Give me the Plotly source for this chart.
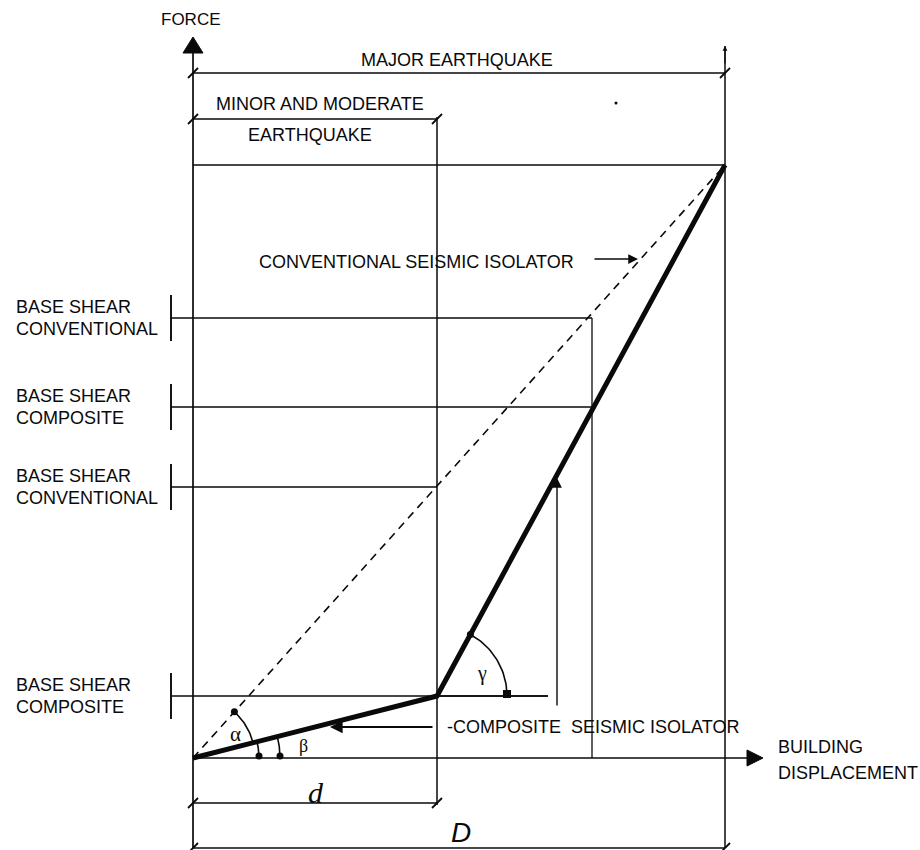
import numpy as np
import plotly.graph_objects as go

# ---------------- diagram values (x: building displacement, y: force) ----------------
d_minor = 244            # displacement for minor / moderate earthquake (d)
D_major = 532            # displacement for major earthquake (D)
F_peak = 593             # force reached at D by both isolators
F_knee = 62              # composite isolator knee force

composite_x = [0, 244, 532]        # composite seismic isolator (thick, bilinear)
composite_y = [0, 62, 593]
conventional_x = [0, 532]          # conventional seismic isolator (dashed, linear)
conventional_y = [0, 593]

shear_levels = [440, 351, 271, 62]           # base shear levels marked on the left
shear_line_end = [399, 401, 244, 355]        # where each level line stops
shear_label_top = ["BASE SHEAR", "BASE SHEAR", "BASE SHEAR", "BASE SHEAR"]
shear_label_bottom = ["CONVENTIONAL", "COMPOSITE", "CONVENTIONAL", "COMPOSITE"]

intermediate_x = 399      # displacement where the upper base shears are compared
major_dim_y = 685         # dimension line "MAJOR EARTHQUAKE"
minor_dim_y = 639         # dimension line "MINOR AND MODERATE EARTHQUAKE"
d_dim_y = -45             # dimension line "d"
D_dim_y = -90             # dimension line "D"
x_axis_end = 570
y_axis_end = 721

INK = "#0a0a0a"
FONT = "Liberation Sans, Arial, Helvetica, sans-serif"
SERIF = "Liberation Serif, Times New Roman, serif"

fig = go.Figure()


def seg(xs, ys, width=1.5, dash=None, color=INK):
    fig.add_trace(go.Scatter(x=xs, y=ys, mode="lines",
                             line=dict(color=color, width=width, dash=dash),
                             hoverinfo="skip", showlegend=False))


# ---------- axes ----------
seg([0, 0], [D_dim_y, y_axis_end - 15], 1.7)          # force axis
seg([0, x_axis_end - 15], [0, 0], 1.7)                # displacement axis
fig.add_trace(go.Scatter(x=[-10, 10, 0, -10], y=[y_axis_end - 16, y_axis_end - 16, y_axis_end, y_axis_end - 16],
                         mode="lines", fill="toself", fillcolor=INK, line=dict(color=INK, width=1),
                         hoverinfo="skip", showlegend=False))
fig.add_trace(go.Scatter(x=[x_axis_end - 16, x_axis_end - 16, x_axis_end, x_axis_end - 16], y=[-8, 8, 0, -8],
                         mode="lines", fill="toself", fillcolor=INK, line=dict(color=INK, width=1),
                         hoverinfo="skip", showlegend=False))

# ---------- vertical reference lines ----------
seg([d_minor, d_minor], [d_dim_y - 2, minor_dim_y + 2], 1.5)
seg([D_major, D_major], [D_dim_y, major_dim_y + 27], 1.5)
seg([intermediate_x, intermediate_x], [0, shear_levels[0]], 1.3)

# ---------- dimension lines ----------
seg([0, D_major], [major_dim_y, major_dim_y], 1.5)
seg([0, d_minor], [minor_dim_y, minor_dim_y], 1.5)
seg([0, D_major], [F_peak, F_peak], 1.5)
seg([0, d_minor], [d_dim_y, d_dim_y], 1.5)
seg([0, D_major], [D_dim_y, D_dim_y], 1.5)

tick_pts = [(0, major_dim_y), (D_major, major_dim_y), (0, minor_dim_y), (d_minor, minor_dim_y),
            (0, d_dim_y), (d_minor, d_dim_y), (0, D_dim_y), (D_major, D_dim_y)]
for tx, ty in tick_pts:
    seg([tx - 5, tx + 5], [ty - 5, ty + 5], 1.8)

# small arrow tip on top of D line
fig.add_annotation(x=D_major, y=major_dim_y + 27, ax=D_major, ay=major_dim_y + 8,
                   xref="x", yref="y", axref="x", ayref="y", text="", showarrow=True,
                   arrowhead=2, arrowsize=0.8, arrowwidth=1.2, arrowcolor=INK)

# ---------- base shear levels ----------
for lvl, xe in zip(shear_levels, shear_line_end):
    bx = -22
    seg([bx, xe], [lvl, lvl], 1.5)
    seg([bx, bx], [lvl - 23, lvl + 23], 1.9)

# ---------- isolator curves ----------
seg(conventional_x, conventional_y, 1.6, dash="8px,6px")
seg(composite_x, composite_y, 5)

# gamma reference horizontal from knee
seg([composite_x[1], 355], [composite_y[1], composite_y[1]], 1.5)

# ---------- angle arcs ----------
ang_comp1 = np.arctan2(composite_y[1] - composite_y[0], composite_x[1] - composite_x[0])
ang_conv = np.arctan2(conventional_y[1], conventional_x[1])
ang_comp2 = np.arctan2(composite_y[2] - composite_y[1], composite_x[2] - composite_x[1])

t = np.linspace(ang_comp1, ang_conv, 30)
r_a = 62
seg(list(r_a * np.cos(t)), list(r_a * np.sin(t)), 1.6)
for r_b in (66, 87):
    tb = np.linspace(0, ang_comp1, 15)
    seg(list(r_b * np.cos(tb)), list(r_b * np.sin(tb)), 1.6)
r_g = 70
tg = np.linspace(0, ang_comp2, 30)
seg(list(composite_x[1] + r_g * np.cos(tg)), list(composite_y[1] + r_g * np.sin(tg)), 1.6)

mk_x = [r_a * np.cos(ang_conv), 66, 87, composite_x[1] + r_g * np.cos(ang_comp2)]
mk_y = [r_a * np.sin(ang_conv), 2, 2, composite_y[1] + r_g * np.sin(ang_comp2)]
fig.add_trace(go.Scatter(x=mk_x, y=mk_y, mode="markers", marker=dict(color=INK, size=7),
                         hoverinfo="skip", showlegend=False))
fig.add_trace(go.Scatter(x=[composite_x[1] + r_g], y=[composite_y[1] + 2], mode="markers",
                         marker=dict(color=INK, size=8, symbol="square"),
                         hoverinfo="skip", showlegend=False))
fig.add_trace(go.Scatter(x=[423], y=[655], mode="markers", marker=dict(color=INK, size=3),
                         hoverinfo="skip", showlegend=False))

# ---------- pointer arrows ----------
fig.add_annotation(x=445, y=499, ax=400, ay=499, xref="x", yref="y", axref="x", ayref="y",
                   text="", showarrow=True, arrowhead=2, arrowsize=1.3, arrowwidth=1.5, arrowcolor=INK)
fig.add_annotation(x=137, y=31, ax=241, ay=31, xref="x", yref="y", axref="x", ayref="y",
                   text="", showarrow=True, arrowhead=2, arrowsize=1.4, arrowwidth=1.8, arrowcolor=INK)
fig.add_annotation(x=364, y=280, ax=364, ay=51, xref="x", yref="y", axref="x", ayref="y",
                   text="", showarrow=True, arrowhead=2, arrowsize=1.4, arrowwidth=1.4, arrowcolor=INK)


# ---------- text ----------
def txt(x, y, s, size=18, anchor="center", family=FONT):
    fig.add_annotation(x=x, y=y, xref="x", yref="y", text=s, showarrow=False,
                       xanchor=anchor, yanchor="middle",
                       font=dict(family=family, size=size, color=INK))


txt(-2, 739, "FORCE", 17)
txt(264, 698, "MAJOR EARTHQUAKE")
txt(127, 654, "MINOR AND MODERATE")
txt(117, 623, "EARTHQUAKE")
txt(64, 496, "CONVENTIONAL SEISMIC ISOLATOR", anchor="left")
for lvl, top, bot in zip(shear_levels, shear_label_top, shear_label_bottom):
    txt(-179, lvl + 11, top, anchor="left")
    txt(-179, lvl - 11, bot, anchor="left")
txt(252, 31, "-COMPOSITE&nbsp;&nbsp;SEISMIC ISOLATOR", anchor="left")
txt(583, 11, "BUILDING", anchor="left")
txt(583, -15, "DISPLACEMENT", anchor="left")
txt(123, -34, "<i>d</i>", 30, family=SERIF)
txt(268, -74, "<i>D</i>", 28, family=FONT)
txt(42, 24, "α", 21, family=SERIF)
txt(110, 12, "β", 18, family=SERIF)
txt(289, 85, "γ", 20, family=SERIF)

fig.update_layout(
    width=920, height=850,
    margin=dict(l=0, r=0, t=0, b=0),
    paper_bgcolor="white", plot_bgcolor="white",
    xaxis=dict(range=[-193, 727], visible=False, fixedrange=True),
    yaxis=dict(range=[-92, 758], visible=False, fixedrange=True),
    showlegend=False,
)

fig.write_html("out.html", config={"displayModeBar": False},
               post_script="document.body.style.margin='0';document.body.style.overflow='hidden';")
